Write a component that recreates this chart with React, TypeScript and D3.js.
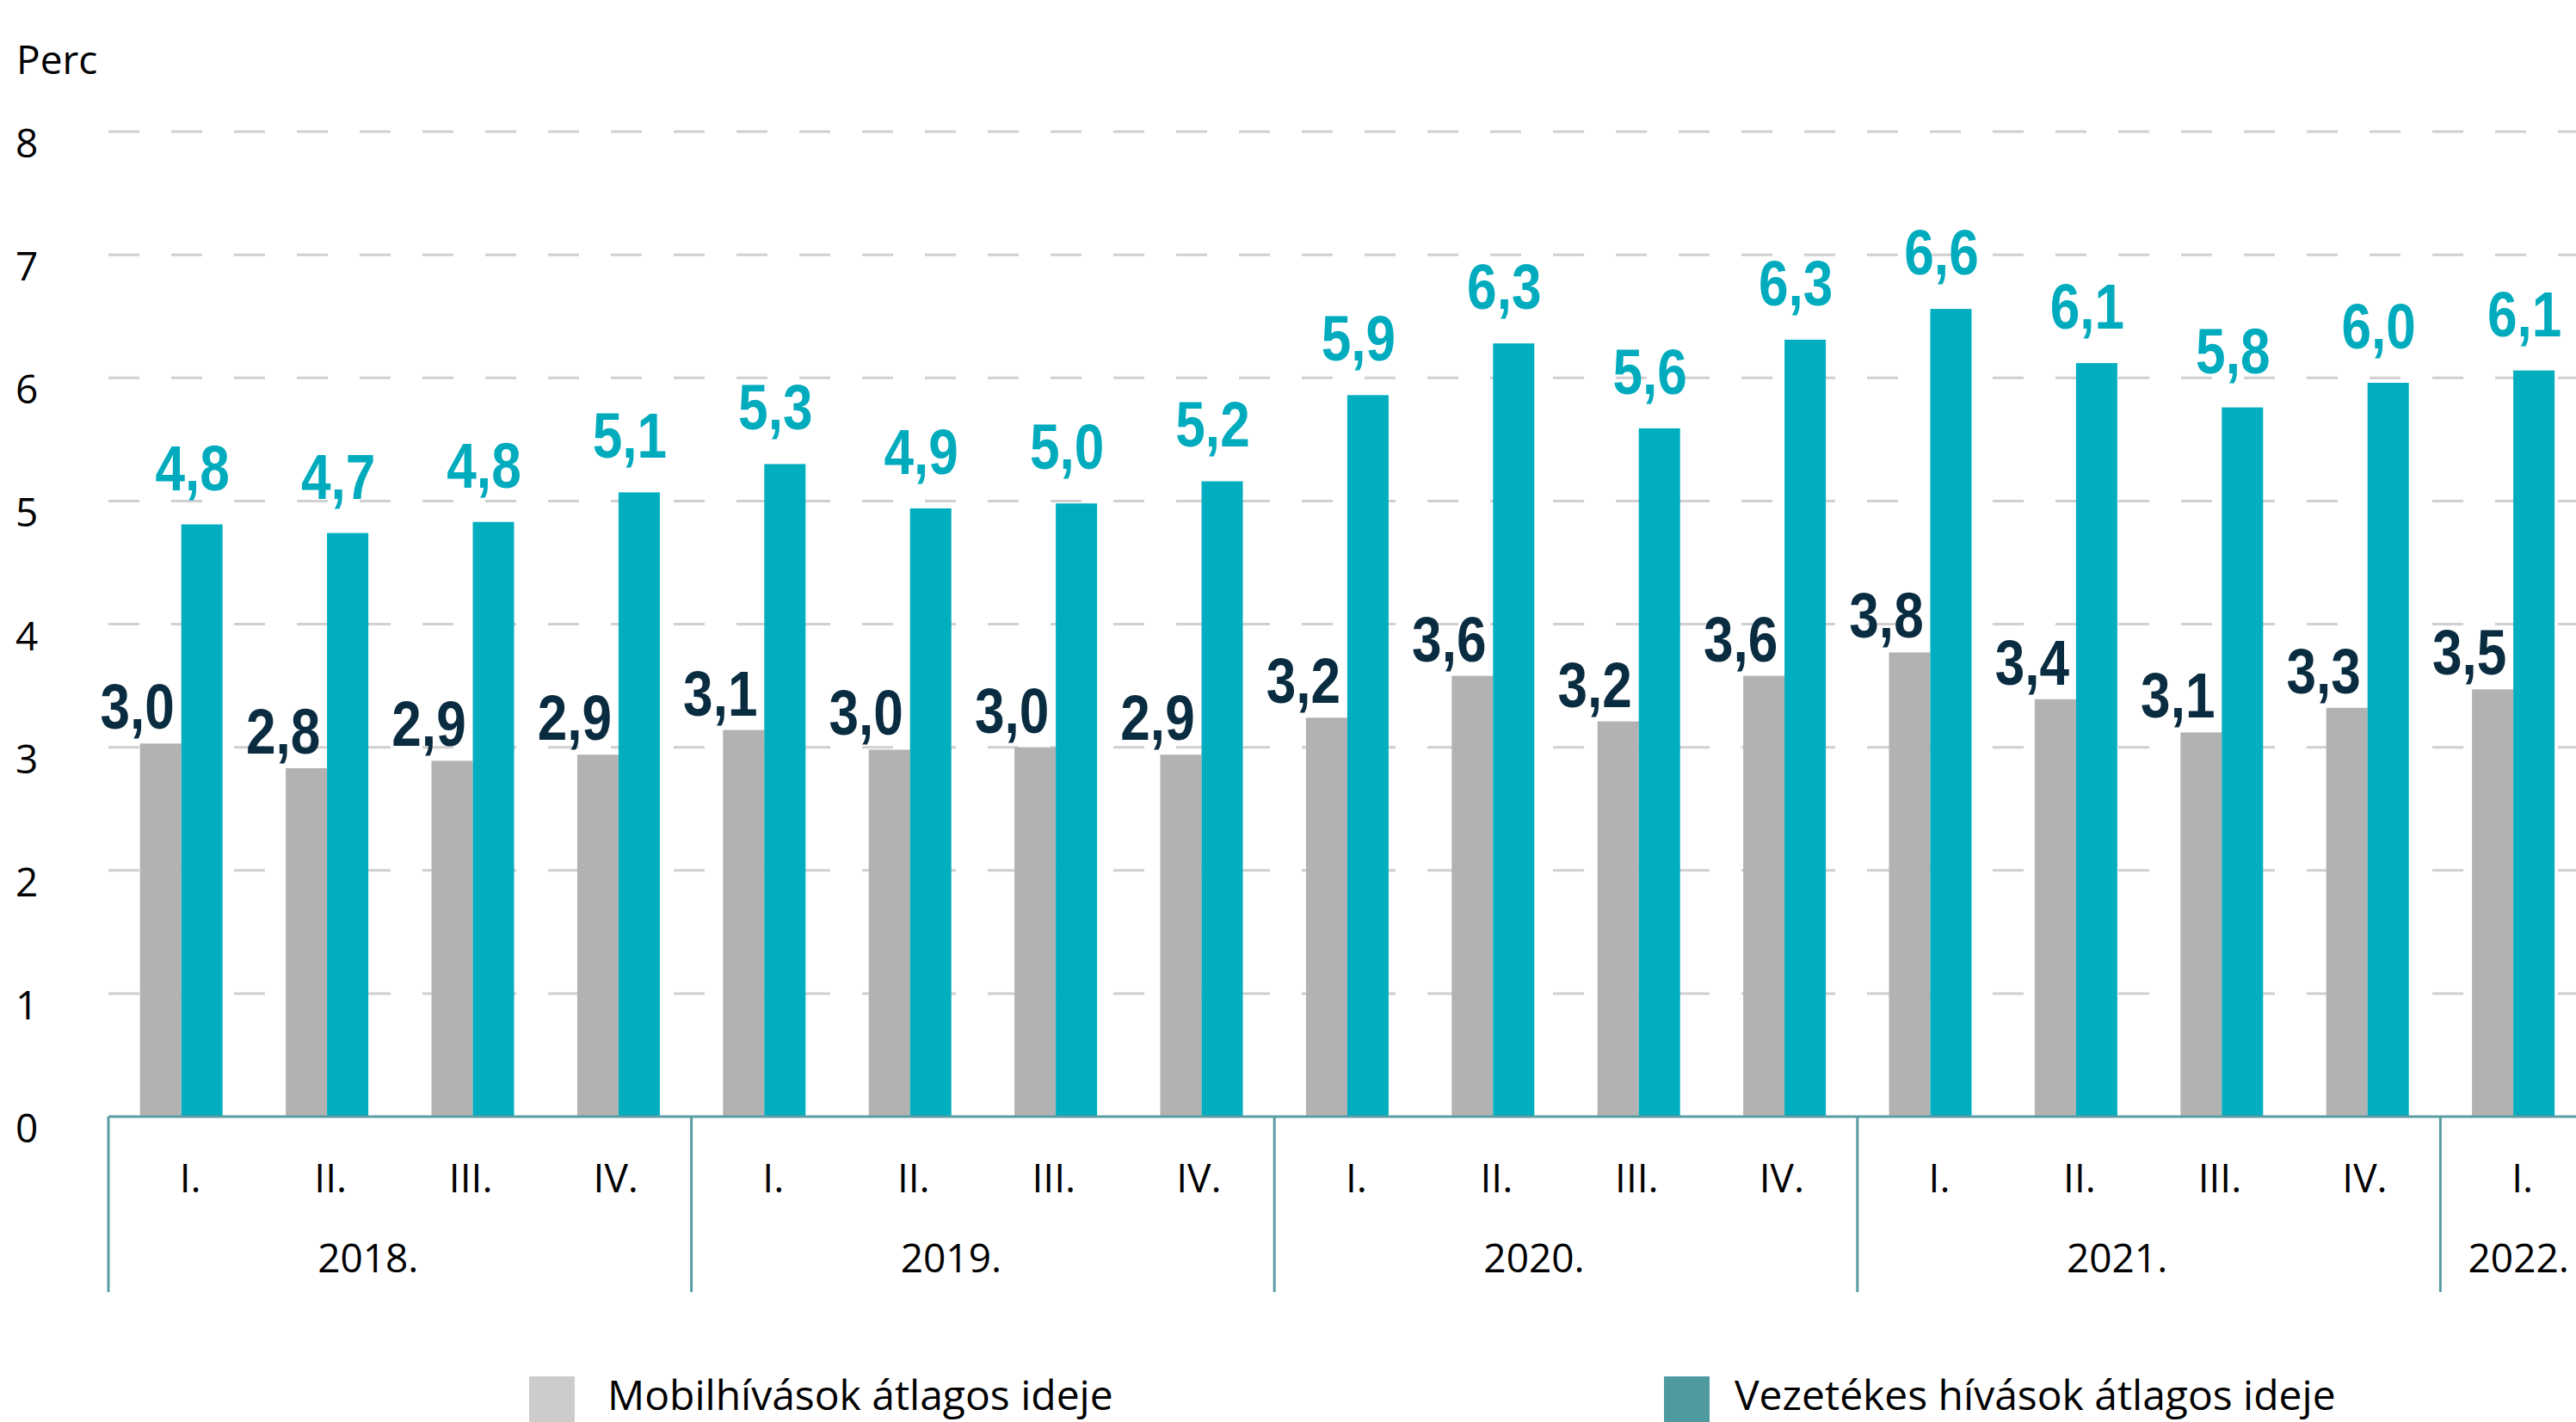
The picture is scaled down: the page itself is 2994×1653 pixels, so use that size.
import React from 'react';
import * as d3 from 'd3';

const quarters = ['I.', 'II.', 'III.', 'IV.', 'I.', 'II.', 'III.', 'IV.', 'I.', 'II.', 'III.', 'IV.', 'I.', 'II.', 'III.', 'IV.', 'I.'];
const years = ['2018.', '2019.', '2020.', '2021.', '2022.'];
const mobile = [3.03, 2.83, 2.89, 2.94, 3.14, 2.98, 3.0, 2.94, 3.24, 3.58, 3.21, 3.58, 3.77, 3.39, 3.12, 3.32, 3.47];
const fixed = [4.81, 4.74, 4.83, 5.07, 5.3, 4.94, 4.98, 5.16, 5.86, 6.28, 5.59, 6.31, 6.56, 6.12, 5.76, 5.96, 6.06];
const yTicks = [0, 1, 2, 3, 4, 5, 6, 7, 8];
const seriesNames = ['Mobilhívások átlagos ideje', 'Vezetékes hívások átlagos ideje'];
const yUnit = 'Perc';

const W = 2994;
const H = 1653;
const LEFT = 126;
const STEP = 169.4;
const BAR_W = 48;
const BASE_Y = 1298;
const TOP_Y = 153;

const C_GRAY = '#b2b2b2';
const C_TEAL = '#00aebf';
const C_LABEL_DARK = '#0a2c40';
const C_LABEL_TEAL = '#00abbd';
const C_AXIS = '#5a9da4';
const C_GRID = '#d0d0d0';
const C_LEG_GRAY = '#cccccc';
const C_LEG_TEAL = '#4e9a9f';

const FONT = "'Open Sans', 'Noto Sans', sans-serif";
const LABEL_FONT = "'Liberation Sans', Arial, sans-serif";
const LABEL_SIZE = 74;
const LABEL_SX = 0.84;

const fmt = (v: number) => d3.format('.1f')(v).replace('.', ',');

export default function App() {
  const n = quarters.length;
  const x = d3.scaleBand<number>().domain(d3.range(n)).range([LEFT, LEFT + n * STEP]).paddingInner(0).paddingOuter(0);
  const y = d3.scaleLinear().domain([0, 8]).range([BASE_Y, TOP_Y]);
  const cx = (i: number) => (x(i) as number) + x.bandwidth() / 2;

  const groups = years.map((yr, k) => {
    const start = x(k * 4) as number;
    const lastIdx = Math.min(k * 4 + 3, n - 1);
    const end = (x(lastIdx) as number) + x.bandwidth();
    const full = lastIdx - k * 4 === 3;
    const visEnd = Math.min(end, W);
    const labelX = full ? (start + end) / 2 - 37 : (start + visEnd) / 2 + 12;
    return { yr, start, end, labelX };
  });

  const valueLabel = (key: string, lx: number, ly: number, txt: string, color: string) => (
    <text key={key} transform={`translate(${lx},${ly}) scale(${LABEL_SX},1)`} textAnchor="middle"
      fontFamily={LABEL_FONT} fontWeight="bold" fontSize={LABEL_SIZE} fill={color}>{txt}</text>
  );

  return (
    <div style={{ position: 'absolute', left: 0, top: 0 }}>
      <svg width={W} height={H} viewBox={`0 0 ${W} ${H}`} style={{ display: 'block', background: '#fff' }}>
        {/* unit */}
        <text x={19} y={86} fontFamily={FONT} fontSize={46} fill="#000">{yUnit}</text>

        {/* gridlines */}
        {yTicks.filter(t => t > 0).map(t => (
          <line key={`g${t}`} x1={LEFT} x2={W} y1={y(t)} y2={y(t)} stroke={C_GRID} strokeWidth={3} strokeDasharray="36 37" />
        ))}

        {/* y tick labels */}
        {yTicks.map(t => (
          <text key={`t${t}`} x={18} y={y(t) + 30} fontFamily={FONT} fontSize={46} fill="#000">{t}</text>
        ))}

        {/* bars */}
        {mobile.map((v, i) => (
          <rect key={`m${i}`} x={cx(i) - BAR_W} y={y(v)} width={BAR_W} height={BASE_Y - y(v)} fill={C_GRAY} />
        ))}
        {fixed.map((v, i) => (
          <rect key={`f${i}`} x={cx(i)} y={y(v)} width={BAR_W} height={BASE_Y - y(v)} fill={C_TEAL} />
        ))}

        {/* value labels */}
        {mobile.map((v, i) => valueLabel(`ml${i}`, cx(i) - BAR_W / 2 - 27, y(v) - 17, fmt(v), C_LABEL_DARK))}
        {fixed.map((v, i) => valueLabel(`fl${i}`, cx(i) + BAR_W / 2 - 11, y(v) - 40, fmt(v), C_LABEL_TEAL))}

        {/* axis */}
        <line x1={LEFT} x2={W} y1={BASE_Y} y2={BASE_Y} stroke={C_AXIS} strokeWidth={3} />
        {groups.map((g, k) => (
          <line key={`s${k}`} x1={g.start} x2={g.start} y1={BASE_Y} y2={1502} stroke={C_AXIS} strokeWidth={3} />
        ))}

        {/* quarter labels */}
        {quarters.map((q, i) => (
          <text key={`q${i}`} x={cx(i) + 23} y={1386} textAnchor="end" fontFamily={FONT} fontSize={46} fill="#000">{q}</text>
        ))}
        {/* year labels */}
        {groups.map((g, k) => (
          <text key={`y${k}`} x={g.labelX} y={1479} textAnchor="middle" fontFamily={FONT} fontSize={46} fill="#000">{g.yr}</text>
        ))}

        {/* legend */}
        <rect x={615} y={1600} width={53} height={60} fill={C_LEG_GRAY} />
        <text x={706} y={1639} fontFamily={FONT} fontSize={48} fill="#000">{seriesNames[0]}</text>
        <rect x={1934} y={1600} width={53} height={60} fill={C_LEG_TEAL} />
        <text x={2016} y={1639} fontFamily={FONT} fontSize={48} fill="#000">{seriesNames[1]}</text>
      </svg>
    </div>
  );
}
